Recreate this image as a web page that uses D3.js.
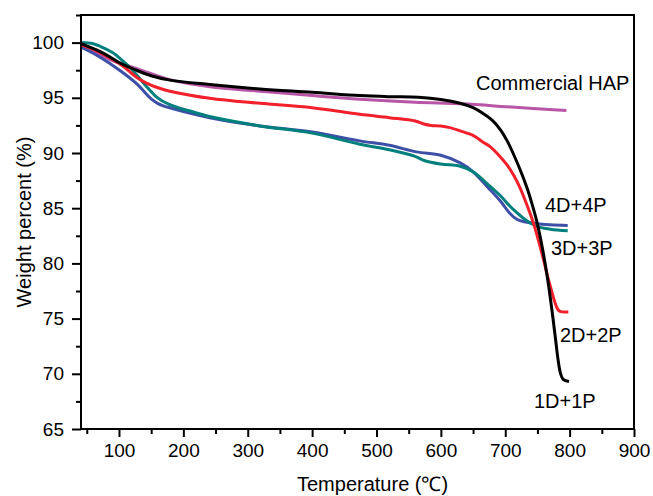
<!DOCTYPE html>
<html>
<head>
<meta charset="utf-8">
<script src="https://cdn.jsdelivr.net/npm/d3@7"></script>
<style>
  body { margin: 0; background: #fff; }
  text { font-family: "Liberation Sans", Arial, sans-serif; fill: #000; }
</style>
</head>
<body>
<script>
// tick values
var xMajor = [100, 200, 300, 400, 500, 600, 700, 800, 900];
var xMinor = [50, 150, 250, 350, 450, 550, 650, 750, 850];
var yMajor = [65, 70, 75, 80, 85, 90, 95, 100];
var yMinor = [67.5, 72.5, 77.5, 82.5, 87.5, 92.5, 97.5, 102.5];

// 1D+1P (black)
var temp1 = [41, 70, 86, 100, 127, 150, 179, 241, 319, 400, 474, 520, 565, 600, 630, 650, 665, 680, 692, 703, 712, 723, 734, 742, 749, 757, 765, 772, 778, 782, 786, 790, 799];
var weight1 = [99.9, 99.2, 98.7, 98.2, 97.5, 97.0, 96.6, 96.2, 95.8, 95.5, 95.2, 95.1, 95.05, 94.85, 94.5, 94.1, 93.6, 92.95, 92.15, 91.1, 90.0, 88.5, 86.8, 85.3, 83.8, 81.6, 78.9, 76.0, 73.2, 71.3, 70.0, 69.5, 69.3];

// 2D+2P (red)
var temp2 = [41, 60, 86, 110, 120, 130, 142, 156, 179, 241, 319, 400, 474, 520, 560, 575, 585, 600, 614, 630, 650, 665, 676, 690, 703, 714, 723, 733, 743, 752, 760, 765, 772, 777, 781, 785, 798];
var weight2 = [99.8, 99.4, 98.6, 97.7, 97.2, 96.75, 96.35, 96.0, 95.6, 94.96, 94.5, 94.1, 93.5, 93.2, 92.9, 92.6, 92.5, 92.45, 92.3, 92.0, 91.6, 91.0, 90.6, 89.8, 88.9, 87.9, 86.85, 85.4, 83.8, 82.0, 80.2, 79.0, 77.5, 76.5, 75.9, 75.65, 75.6];

// 3D+3P (teal)
var temp3 = [41, 60, 73, 90, 105, 118, 130, 143, 155, 166, 178, 192, 210, 241, 319, 400, 474, 520, 560, 575, 600, 630, 650, 676, 693, 707, 718, 728, 749, 770, 797];
var weight3 = [100.0, 99.9, 99.6, 99.1, 98.4, 97.7, 96.9, 96.0, 95.25, 94.75, 94.4, 94.1, 93.8, 93.3, 92.45, 91.8, 90.8, 90.3, 89.7, 89.3, 89.0, 88.8, 88.3, 87.0, 86.1, 85.2, 84.6, 84.1, 83.35, 83.1, 82.95];

// 4D+4P (blue)
var temp4 = [41, 70, 101, 127, 140, 150, 160, 170, 182, 200, 241, 319, 400, 474, 520, 562, 600, 630, 650, 676, 693, 707, 718, 728, 749, 770, 797];
var weight4 = [99.6, 98.7, 97.5, 96.3, 95.5, 94.9, 94.5, 94.25, 94.05, 93.75, 93.2, 92.45, 91.9, 91.1, 90.7, 90.1, 89.8, 89.1, 88.3, 86.7, 85.6, 84.55, 84.0, 83.8, 83.6, 83.5, 83.43];

// Commercial HAP (magenta)
var tempH = [41, 60, 89, 130, 182, 241, 319, 400, 474, 560, 633, 700, 750, 795];
var weightH = [99.6, 99.2, 98.4, 97.6, 96.6, 96.0, 95.6, 95.2, 94.87, 94.6, 94.45, 94.2, 94.0, 93.85];

var series = [
  { name: "Commercial HAP", t: tempH, w: weightH, color: "#b955a7", lx: 476, ly: 90 },
  { name: "4D+4P", t: temp4, w: weight4, color: "#3d4fa6", lx: 545, ly: 212 },
  { name: "3D+3P", t: temp3, w: weight3, color: "#00807c", lx: 551, ly: 255 },
  { name: "2D+2P", t: temp2, w: weight2, color: "#f2202a", lx: 560, ly: 342 },
  { name: "1D+1P", t: temp1, w: weight1, color: "#000000", lx: 534, ly: 408 }
];

//Width and height
var w = 653;
var h = 496;
var plotL = 81, plotR = 634, plotT = 15, plotB = 429;

var x = d3.scaleLinear().domain([41, 900]).range([plotL, plotR]);
var y = d3.scaleLinear().domain([65, 102.5]).range([plotB, plotT]);

var svg = d3.select("body")
            .append("svg")
            .attr("width", w)
            .attr("height", h);

//Curves
var line = d3.line()
             .x(function(d) { return x(d[0]); })
             .y(function(d) { return y(d[1]); })
             .curve(d3.curveCatmullRom.alpha(0.5));

svg.selectAll("path.curve")
   .data(series)
   .enter()
   .append("path")
   .attr("class", "curve")
   .attr("d", function(s) { return line(s.t.map(function(t, i) { return [t, s.w[i]]; })); })
   .style("fill", "none")
   .style("stroke", function(s) { return s.color; })
   .style("stroke-width", 3)
   .style("stroke-linejoin", "round");

//Frame
svg.append("rect")
   .attr("x", plotL)
   .attr("y", plotT)
   .attr("width", plotR - plotL)
   .attr("height", plotB - plotT)
   .style("fill", "none")
   .style("stroke", "#000")
   .style("stroke-width", 2);

//Axes
function styleAxis(g) {
  g.select(".domain").remove();
  g.selectAll(".tick line").style("stroke", "#000").style("stroke-width", 2);
  g.selectAll(".tick text").style("font-size", "19px").style("font-family", "'Liberation Sans', Arial, sans-serif");
}

svg.append("g")
   .attr("transform", "translate(0," + plotB + ")")
   .call(d3.axisBottom(x).tickValues(xMinor).tickSize(5).tickFormat(""))
   .call(styleAxis);

svg.append("g")
   .attr("transform", "translate(0," + plotB + ")")
   .call(d3.axisBottom(x).tickValues(xMajor).tickSize(8).tickPadding(7).tickFormat(d3.format("d")))
   .call(styleAxis);

svg.append("g")
   .attr("transform", "translate(" + plotL + ",0)")
   .call(d3.axisLeft(y).tickValues(yMinor).tickSize(5).tickFormat(""))
   .call(styleAxis);

svg.append("g")
   .attr("transform", "translate(" + plotL + ",0)")
   .call(d3.axisLeft(y).tickValues(yMajor).tickSize(9).tickPadding(8).tickFormat(d3.format("d")))
   .call(styleAxis);

//Axis titles
svg.append("text")
   .attr("x", 297)
   .attr("y", 491)
   .style("font-size", "20px")
   .text("Temperature (\u2103)");

svg.append("text")
   .attr("transform", "translate(31," + ((plotT + plotB) / 2) + ") rotate(-90)")
   .attr("text-anchor", "middle")
   .style("font-size", "20px")
   .text("Weight percent (%)");

//Series labels
svg.selectAll("text.label")
   .data(series)
   .enter()
   .append("text")
   .attr("class", "label")
   .attr("x", function(s) { return s.lx; })
   .attr("y", function(s) { return s.ly; })
   .style("font-size", "20px")
   .text(function(s) { return s.name; });
</script>
</body>
</html>
